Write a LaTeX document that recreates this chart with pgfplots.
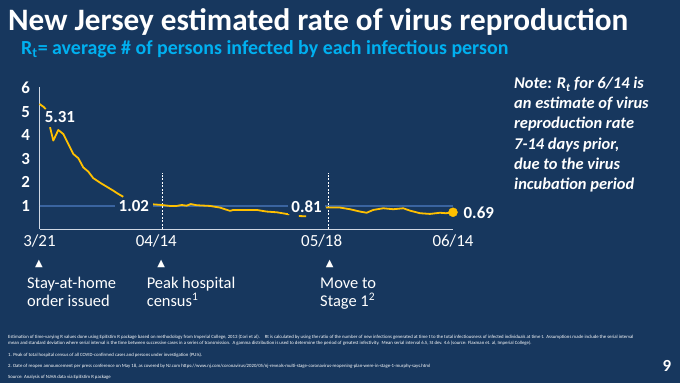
\documentclass[border=0pt]{standalone}
\usepackage{fontspec}
\setmainfont{Carlito}
\newfontfamily\dejavu{DejaVu Sans}
\usepackage{pgfplots}
\pgfplotsset{compat=1.18}
\definecolor{bg}{HTML}{17375E}
\definecolor{gold}{HTML}{FFC000}
\definecolor{sky}{HTML}{00B0F0}
\definecolor{refblue}{HTML}{3A64A0}
\definecolor{axisgray}{HTML}{D0D8E4}
\begin{document}
\begin{tikzpicture}[x=1bp,y=1bp]
\fill[bg] (0,0) rectangle (680,383);
\useasboundingbox (0,0) rectangle (680,383);
% titles
\node[anchor=base west, text=white, inner sep=0, font=\fontsize{31.3}{31}\selectfont\bfseries] at (8,353) {New Jersey estimated rate of virus reproduction};
\node[anchor=base west, text=sky, inner sep=0, font=\fontsize{20}{20}\selectfont\bfseries] at (21,328.5) {R\textsubscript{t}= average \# of persons infected by each infectious person};
% note
\begin{scope}[every node/.style={anchor=base west, text=white, inner sep=0, font=\fontsize{16.5}{16.5}\selectfont\bfseries\itshape}]
\node at (514,294.5) {Note: R\textsubscript{t} for 6/14 is};
\node at (514,274.3) {an estimate of virus};
\node at (514,254.1) {reproduction rate};
\node at (514,233.9) {7-14 days prior,};
\node at (514,213.7) {due to the virus};
\node at (514,193.5) {incubation period};
\end{scope}
% annotations
\begin{scope}[every node/.style={text=white, inner sep=0}]
\node[font=\dejavu\fontsize{10}{10}\selectfont] at (39,119) {▲};
\node[font=\dejavu\fontsize{10}{10}\selectfont] at (161.3,119) {▲};
\node[font=\dejavu\fontsize{10}{10}\selectfont] at (329.6,119) {▲};
\end{scope}
\begin{scope}[every node/.style={anchor=base west, text=white, inner sep=0, font=\fontsize{16.5}{16.5}\selectfont}]
\node at (27,94.7) {Stay-at-home};
\node at (27,76.7) {order issued};
\node at (146.6,94.7) {Peak hospital};
\node at (146.6,76.7) {census\textsuperscript{1}};
\node at (320,94.7) {Move to};
\node at (320,76.7) {Stage 1\textsuperscript{2}};
\end{scope}
% footnotes
\begin{scope}[every node/.style={anchor=base west, text=white, inner sep=0, font=\fontsize{4.8}{4.8}\selectfont}]
\node at (8,44.5) {Estimation of time-varying R values done using EpiEstim R package based on methodology from Imperial College, 2013 (Cori et al).\quad Rt is calculated by using the ratio of the number of new infections generated at time t to the total infectiousness of infected individuals at time t.\ \ Assumptions made include the serial interval};
\node at (8,38.5) {mean and standard deviation where serial interval is the time between successive cases in a series of transmission.\ \ A gamma distribution is used to determine the period of greatest infectivity.\ \ Mean serial interval 6.5, St dev. 4.6 (source: Flaxman et. al, Imperial College).};
\node at (8,27) {1. Peak of total hospital census of all COVID-confirmed cases and persons under investigation (PUIs).};
\node at (8,15.5) {2. Date of reopen announcement per press conference on May 18, as covered by NJ.com https://www.nj.com/coronavirus/2020/05/nj-reveals-multi-stage-coronavirus-reopening-plan-were-in-stage-1-murphy-says.html};
\node at (8,4.5) {Source: Analysis of NJHA data via EpiEstim R package};
\end{scope}
\node[anchor=base, text=white, inner sep=0, font=\fontsize{17}{17}\selectfont\bfseries] at (667,12) {9};
\begin{axis}[
  at={(39.5bp,153.8bp)}, anchor=south west,
  scale only axis, width=413.5bp, height=142.2bp,
  xmin=0, xmax=85, ymin=0, ymax=6.05,
  axis x line*=bottom, axis y line*=left,
  axis line style={axisgray, line width=1.2bp},
  xtick={0,24,58,85}, xticklabels={3/21,04/14,05/18,06/14},
  ytick={1,2,3,4,5,6},
  tick style={draw=none},
  xticklabel style={text=white, font=\fontsize{17}{17}\selectfont, yshift=-2bp},
  yticklabel style={text=white, font=\fontsize{17}{17}\selectfont\bfseries, xshift=-6bp},
  /pgf/number format/assume math mode=true,
  clip=false,
  unbounded coords=jump,
]
\addplot[refblue, line width=2bp] coordinates {(0,1) (85,1)};
\addplot[white, line width=0.8bp, dash pattern=on 2bp off 1.5bp] coordinates {(25.2,0) (25.2,2.4)};
\addplot[white, line width=0.8bp, dash pattern=on 2bp off 1.5bp] coordinates {(59.3,0) (59.3,2.4)};
\addplot[gold, line width=1.8bp, line join=round] coordinates {
(0,5.33) (0.92,5.19) (1.27,5.11) (1.5,nan)
(2.16,4.34) (2.84,3.77) (3.86,4.22) (4.89,4.05) (5.92,3.63) (6.95,3.20) (7.98,3.02) (9.00,2.63) (10.03,2.45) (11.06,2.17) (12.44,1.98) (13.81,1.81) (15.17,1.64) (16.20,1.50) (17.22,1.38) (18,nan)
(23.27,1.06) (25.12,1.03) (26.82,0.99) (28.20,0.99) (29.23,1.03) (30.26,1.00) (31.08,1.07) (32.31,1.02) (35.05,0.99) (37.10,0.92) (39.16,0.78) (39.84,0.82) (42.59,0.82) (44.65,0.82) (46.70,0.75) (48.76,0.72) (51.35,0.63) (52,nan)
(53.3,0.56) (54.8,0.55) (55,nan)
(58.89,0.92) (61.77,0.92) (63.82,0.85) (65.88,0.75) (67.25,0.70) (68.61,0.82) (70.66,0.89) (72.72,0.85) (74.78,0.89) (76.16,0.79) (78.21,0.68) (80.27,0.65) (82.32,0.70) (83.56,0.68) (85.00,0.72)
};
\addplot[only marks, mark=*, mark size=4.5bp, gold] coordinates {(85,0.72)};
\node[fill=bg, text=white, font=\fontsize{17}{17}\selectfont\bfseries, inner xsep=4bp, inner ysep=2bp] at (19.4,0.99) {1.02};
\node[fill=bg, text=white, font=\fontsize{17}{17}\selectfont\bfseries, inner xsep=3.5bp, inner ysep=2bp] at (54.9,0.97) {0.81};
\node[text=white, font=\fontsize{17}{17}\selectfont\bfseries, inner sep=1bp] at (4.2,4.77) {5.31};
\node[text=white, font=\fontsize{17}{17}\selectfont\bfseries, inner sep=1bp] at (90.3,0.68) {0.69};
\end{axis}
\end{tikzpicture}
\end{document}
